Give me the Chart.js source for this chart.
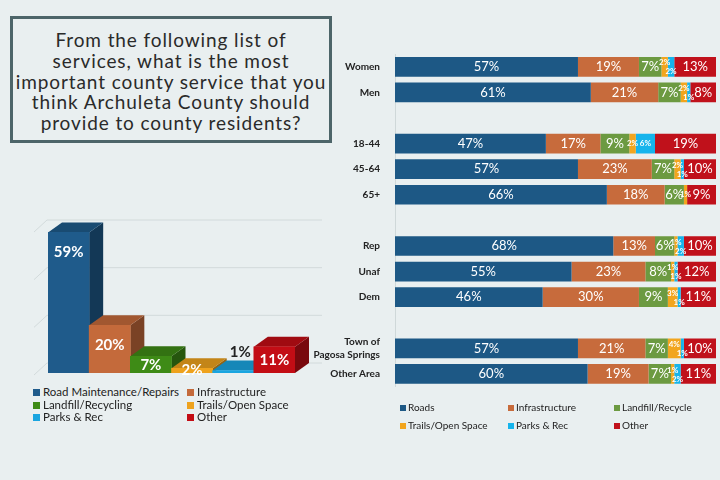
<!DOCTYPE html>
<html>
<head>
<meta charset="utf-8">
<script src="https://cdn.jsdelivr.net/npm/chart.js@4"></script>
<style>
body{margin:0;width:720px;height:480px;background:#e9eff0;font-family:Lato,sans-serif;position:relative;overflow:hidden}
#title{position:absolute;left:10px;top:16px;width:322px;height:127px;box-sizing:border-box;border:3px solid #4d6569;
  text-align:center;font-size:19px;line-height:20.8px;letter-spacing:0.9px;color:#2a2a2a;padding-top:11px;white-space:nowrap}
#left{position:absolute;left:0;top:190px}
#right{position:absolute;left:300px;top:40px}
.lg{position:absolute;font-size:11.5px;color:#222;line-height:12.5px;white-space:nowrap}
.lg span{display:inline-block;width:7px;height:7px;margin-right:3px;vertical-align:0px}
.rg{position:absolute;font-size:10px;color:#222;line-height:18px;white-space:nowrap}
.rg span{display:inline-block;width:6px;height:6px;margin-right:2px;vertical-align:0px}
</style>
</head>
<body>
<div id="title">From the following list of<br>services, what is the most<br>important county service that you<br>think Archuleta County should<br>provide to county residents?</div>
<canvas id="left" width="340" height="190"></canvas>
<canvas id="right" width="420" height="360"></canvas>
<div id="leftLegend"></div>
<div id="rightLegend"></div>
<script>
// overall question
var serviceLabels = ['Road Maintenance/Repairs', 'Infrastructure', 'Landfill/Recycling', 'Trails/Open Space', 'Parks & Rec', 'Other'];
var serviceValues = [59, 20, 7, 2, 1, 11];
var serviceColors = ['#1f5b8b', '#c46a3b', '#3e8b16', '#eea21d', '#1aa5e0', '#c30d15'];

// breakdown by group (blank rows are gaps)
var groupLabels = ['Women', 'Men', '', '18-44', '45-64', '65+', '', 'Rep', 'Unaf', 'Dem', '', ['Town of', 'Pagosa Springs'], 'Other Area'];
var seriesNames = ['Roads', 'Infrastructure', 'Landfill/Recycle', 'Trails/Open Space', 'Parks & Rec', 'Other'];
var roads = [57, 61, null, 47, 57, 66, null, 68, 55, 46, null, 57, 60];
var infrastructure = [19, 21, null, 17, 23, 18, null, 13, 23, 30, null, 21, 19];
var landfill = [7, 7, null, 9, 7, 6, null, 6, 8, 9, null, 7, 7];
var trails = [2, 2, null, 2, 2, 1, null, 1, 1, 3, null, 4, 1];
var parks = [2, 1, null, 6, 1, 0, null, 2, 1, 1, null, 1, 2];
var other = [13, 8, null, 19, 10, 9, null, 10, 12, 11, null, 10, 11];
var seriesColors = ['#1d5885', '#c76b3c', '#6c9a41', '#f2a51e', '#16b4ec', '#c0111b'];

var dx = 14, dy = 10;

function shade(hex, f){
    var n = parseInt(hex.slice(1), 16);
    var r = Math.round(((n >> 16) & 255) * f), g = Math.round(((n >> 8) & 255) * f), b = Math.round((n & 255) * f);
    return 'rgb(' + r + ',' + g + ',' + b + ')';
}

var bar3d = {
    id: 'bar3d',
    beforeDatasetsDraw: function(chart){
        var ctx = chart.ctx, a = chart.chartArea, ys = chart.scales.y;
        ctx.save();
        // back wall grid
        ctx.strokeStyle = '#d2dadb';
        ctx.lineWidth = 1;
        for (var v = ys.min; v <= ys.max; v += 20){
            var py = ys.getPixelForValue(v);
            ctx.beginPath();
            ctx.moveTo(a.left - 14, py + 2);
            ctx.lineTo(a.left - 1, py - dy);
            ctx.lineTo(a.right + 27, py - dy);
            ctx.stroke();
        }
        // side and top faces
        var meta = chart.getDatasetMeta(0);
        meta.data.forEach(function(bar, i){
            var col = serviceColors[i];
            var l = bar.x - bar.width / 2, r = bar.x + bar.width / 2, t = bar.y, b = bar.base;
            ctx.fillStyle = shade(col, 0.62);
            ctx.beginPath();
            ctx.moveTo(r, t); ctx.lineTo(r + dx, t - dy); ctx.lineTo(r + dx, b - dy); ctx.lineTo(r, b);
            ctx.closePath(); ctx.fill();
            ctx.fillStyle = shade(col, 0.82);
            ctx.beginPath();
            ctx.moveTo(l, t); ctx.lineTo(l + dx, t - dy); ctx.lineTo(r + dx, t - dy); ctx.lineTo(r, t);
            ctx.closePath(); ctx.fill();
        });
        ctx.restore();
    },
    afterDatasetsDraw: function(chart){
        var ctx = chart.ctx;
        var meta = chart.getDatasetMeta(0);
        ctx.save();
        ctx.textAlign = 'center';
        ctx.textBaseline = 'middle';
        ctx.font = 'bold 15px Lato';
        meta.data.forEach(function(bar, i){
            var v = serviceValues[i];
            var t = bar.y, b = bar.base;
            if (v < 2){
                ctx.fillStyle = '#222';
                ctx.fillText(v + '%', bar.x + dx / 2, t - dy - 8);
            } else {
                ctx.fillStyle = '#fff';
                ctx.fillText(v + '%', bar.x, t + Math.min(20, (b - t) / 2));
            }
        });
        ctx.restore();
    }
};

new Chart(document.getElementById('left'), {
    type: 'bar',
    data: {
        labels: serviceLabels,
        datasets: [{ data: serviceValues, backgroundColor: serviceColors, categoryPercentage: 1, barPercentage: 1 }]
    },
    options: {
        responsive: false,
        animation: false,
        layout: { padding: { left: 48, right: 45, top: 40, bottom: 7 } },
        plugins: { legend: { display: false }, tooltip: { enabled: false } },
        scales: {
            x: { display: false },
            y: { display: false, min: 0, max: 60 }
        }
    },
    plugins: [bar3d]
});

var hbarLabels = {
    id: 'hbarLabels',
    afterDatasetsDraw: function(chart){
        var ctx = chart.ctx;
        ctx.save();
        ctx.textAlign = 'center';
        ctx.textBaseline = 'middle';
        ctx.fillStyle = '#fff';
        chart.data.datasets.forEach(function(ds, i){
            var meta = chart.getDatasetMeta(i);
            meta.data.forEach(function(bar, j){
                var v = ds.data[j];
                if (!v) return;
                var cx = (bar.x + bar.base) / 2;
                var small = (i == 3 || i == 4);
                var off = 0;
                if (small && trails[j] > 0 && parks[j] > 0 && parks[j] <= 2 && trails[j] <= 4){
                    off = i == 3 ? -4 : 5;
                }
                ctx.font = small ? 'bold 8px Lato' : '13px Lato';
                ctx.fillText(v + '%', cx, bar.y + off);
            });
        });
        ctx.restore();
    }
};

var seriesData = [roads, infrastructure, landfill, trails, parks, other];

new Chart(document.getElementById('right'), {
    type: 'bar',
    data: {
        labels: groupLabels,
        datasets: seriesData.map(function(d, i){
            return { label: seriesNames[i], data: d, backgroundColor: seriesColors[i], categoryPercentage: 0.8, barPercentage: 0.96 };
        })
    },
    options: {
        indexAxis: 'y',
        responsive: false,
        animation: false,
        layout: { padding: { left: 0, right: 4, top: 14, bottom: 7 } },
        plugins: { legend: { display: false }, tooltip: { enabled: false } },
        scales: {
            x: { display: false, stacked: true, min: 0, max: 100 },
            y: {
                stacked: true,
                grid: { display: false },
                border: { display: true, color: '#cfd8d9' },
                ticks: { autoSkip: false, color: '#222', padding: 7, font: { family: 'Lato', size: 10, weight: 'bold', lineHeight: 1.25 } },
                afterFit: function(scale){ scale.width = 95; }
            }
        }
    },
    plugins: [hbarLabels]
});

// legends
var leftPos = [[33, 386], [187, 386], [33, 398.5], [187, 398.5], [33, 411], [187, 411]];
var lhtml = '';
serviceLabels.forEach(function(s, i){
    lhtml += '<div class="lg" style="left:' + leftPos[i][0] + 'px;top:' + leftPos[i][1] + 'px"><span style="background:' + serviceColors[i] + '"></span>' + s.replace('&', '&amp;') + '</div>';
});
document.getElementById('leftLegend').innerHTML = lhtml;

var rightPos = [[400, 398], [508, 398], [614, 398], [400, 416], [508, 416], [614, 416]];
var rhtml = '';
seriesNames.forEach(function(s, i){
    rhtml += '<div class="rg" style="left:' + rightPos[i][0] + 'px;top:' + rightPos[i][1] + 'px"><span style="background:' + seriesColors[i] + '"></span>' + s.replace('&', '&amp;') + '</div>';
});
document.getElementById('rightLegend').innerHTML = rhtml;
</script>
</body>
</html>
